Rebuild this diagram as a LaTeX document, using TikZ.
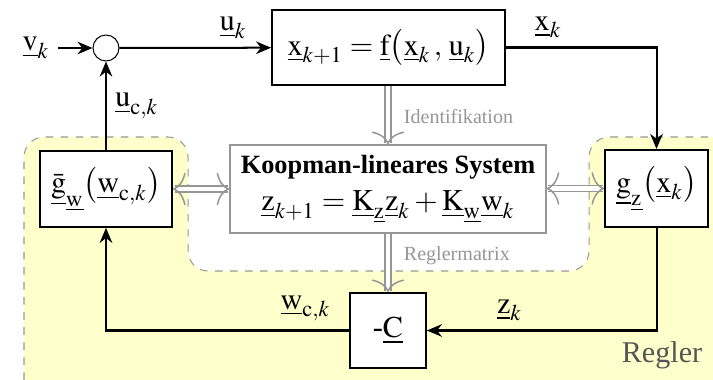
\documentclass[tikz,border=0pt]{standalone}
\usepackage{amsmath, amssymb}
\usepackage{mathptmx}
\usepackage{fontspec}
\setmainfont{Liberation Serif}
\usepackage{xcolor}
\usepackage{tikz}
\usetikzlibrary{arrows.meta, positioning, calc}
\definecolor{rgyellow}{RGB}{255,255,204}
\definecolor{rggray}{RGB}{150,150,150}
\definecolor{rgdark}{RGB}{85,85,85}
\newcommand{\vek}[1]{\underline{\mathrm{#1}}}

\begin{document}
\begin{tikzpicture}[
  x=0.014cm, y=-0.014cm,
  every node/.style={font=\large},
  block/.style={rectangle, draw=black, fill=white, thick,
                minimum height=1.05cm, align=center, inner sep=2pt},
  gblock/.style={rectangle, draw=rggray, fill=white, thick,
                 minimum width=4.42cm, minimum height=1.23cm,
                 align=center, inner sep=2pt},
  sumnode/.style={circle, draw=black, fill=white, thin,
                  minimum size=0.364cm, inner sep=0pt},
  sig/.style={-{Stealth[length=6pt, width=5pt]}, thick},
  gtip/.tip={Computer Modern Rightarrow[length=5pt, width=13pt, line width=0.6pt]},
  gflow/.style={-gtip, double=white, draw=rggray, double distance=1.6pt, semithick},
  gflowboth/.style={gtip-gtip, double=white, draw=rggray, double distance=1.6pt, semithick},
  glabel/.style={font=\footnotesize, text=rggray, anchor=west},
]
\useasboundingbox (0,0) rectangle (713,380);

% Controller region
\begin{scope}
  \clip (0,0) rectangle (713,380);
  \draw[rggray, dashed, fill=rgyellow, rounded corners=8pt]
    (24,400) -- (24,137) -- (188,137) -- (188,271) -- (589,271)
    -- (589,137) -- (740,137) -- (740,400) -- cycle;
\end{scope}

% Blocks
\node[sumnode] (sum) at (106,48) {};
\node (vin) at (36,48) {$\vek{v}_k$};
\node[block, minimum width=3.26cm] (plant) at (388.5,47.5)
  {$\vek{x}_{k+1} = \vek{f}\bigl(\vek{x}_k\,,\,\vek{u}_k\bigr)$};
\node[gblock] (koop) at (388,189)
  {{\fontsize{10.5}{12}\selectfont\bfseries Koopman-lineares System}\\[1pt]
   $\vek{z}_{k+1} = \vek{K}_{\vek{z}}\vek{z}_k + \vek{K}_{\vek{w}}\vek{w}_k$};
\node[block, minimum width=1.44cm, minimum height=1.08cm] (gz) at (656.5,188.5)
  {$\vek{g}_{\vek{z}}\bigl(\vek{x}_k\bigr)$};
\node[block, minimum width=1.85cm, minimum height=1.06cm] (gw) at (106,189)
  {$\bar{\vek{g}}_{\vek{w}}\bigl(\vek{w}_{\mathrm{c},k}\bigr)$};
\node[block, minimum width=1.06cm] (ctrl) at (388,330.5) {-$\vek{C}$};
\node[text=rgdark, anchor=south east] (regler) at (711,378) {Regler};

% Signals
\draw[sig] (vin) -- (sum);
\draw[sig] (sum) -- node[pos=0.75, above]{$\vek{u}_k$} (plant);
\draw[sig] (plant.east) -| node[pos=0.14, above]{$\vek{x}_k$} (gz.north);
\draw[sig] (gz.south) |- node[pos=0.82, above]{$\vek{z}_k$} (ctrl.east);
\draw[sig] (ctrl.west) -| node[pos=0.09, above]{$\vek{w}_{\mathrm{c},k}$} (gw.south);
\draw[sig] (gw.north) -- node[right]{$\vek{u}_{\mathrm{c},k}$} (sum.south);

% Identification and controller design
\draw[gflow] (plant.south -| koop) -- (koop.north);
\node[glabel] (ident) at (395,117) {Identifikation};
\draw[gflow] (koop.south) -- (ctrl.north);
\node[glabel] (rmat) at (395,256) {Reglermatrix};
\draw[gflowboth] (gw.east) -- (gw.east -| koop.west);
\draw[gflowboth] (koop.east |- gz.west) -- (gz.west);

\end{tikzpicture}
\end{document}
